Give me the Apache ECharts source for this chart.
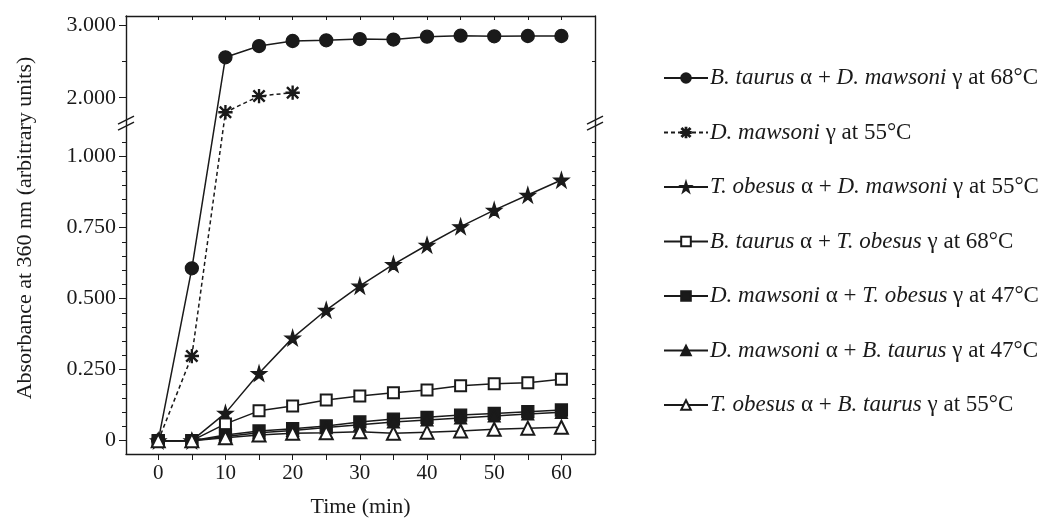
<!DOCTYPE html>
<html>
<head>
<meta charset="utf-8">
<script src="https://cdn.jsdelivr.net/npm/echarts@6/dist/echarts.min.js"></script>
<style>
  html, body { margin: 0; padding: 0; background: #fff; }
  #main { width: 1060px; height: 518px; }
</style>
</head>
<body>
<div id="main"></div>
<script>
// time points (min)
var times = [0, 5, 10, 15, 20, 25, 30, 35, 40, 45, 50, 55, 60];

// absorbance at 360 nm
var btDm68 = [0, 0.607, 2.556, 2.711, 2.78, 2.79, 2.807, 2.80, 2.84, 2.853, 2.845, 2.849, 2.849];
var dm55   = [0, 0.298, 1.80, 2.023, 2.069];
var toDm55 = [0, 0, 0.097, 0.237, 0.362, 0.46, 0.545, 0.621, 0.689, 0.754, 0.812, 0.865, 0.918];
var btTo68 = [0, 0, 0.059, 0.105, 0.122, 0.143, 0.157, 0.169, 0.178, 0.193, 0.2, 0.204, 0.216];
var dmTo47 = [0, 0, 0.02, 0.034, 0.042, 0.052, 0.066, 0.076, 0.082, 0.09, 0.096, 0.102, 0.108];
var dmBt47 = [0, 0, 0.015, 0.028, 0.036, 0.046, 0.056, 0.066, 0.073, 0.08, 0.087, 0.094, 0.1];
var toBt55 = [0, 0, 0.01, 0.02, 0.026, 0.028, 0.031, 0.026, 0.03, 0.034, 0.04, 0.044, 0.047];

var seriesNames = [
  'B. taurus α + D. mawsoni γ at 68°C',
  'D. mawsoni γ at 55°C',
  'T. obesus α + D. mawsoni γ at 55°C',
  'B. taurus α + T. obesus γ at 68°C',
  'D. mawsoni α + T. obesus γ at 47°C',
  'D. mawsoni α + B. taurus γ at 47°C',
  'T. obesus α + B. taurus γ at 55°C'
];

// tick positions
var xTicks = [0, 5, 10, 15, 20, 25, 30, 35, 40, 45, 50, 55, 60];
var xLabels = [0, 10, 20, 30, 40, 50, 60];
var majorTicks = [0, 0.25, 0.5, 0.75, 1, 2, 3];
var minorTicks = [];
for (var k = 0; k <= 21; k++) minorTicks.push(k * 0.05);
minorTicks.push(2.5);

// broken axis: lower part 0..1 at full scale, upper part 2..3 squeezed
var BREAK_BASE = 1.2077, UPPER_SCALE = 0.256;
function disp(v) {
  return v <= 1.1 ? v : BREAK_BASE + (v - 2) * UPPER_SCALE;
}

function pairs(vals) {
  return vals.map(function (v, i) { return [times[i], disp(v)]; });
}

var starPath = 'path://M50,0 L61,35 L98,35 L68,57 L79,91 L50,70 L21,91 L32,57 L2,35 L39,35 Z';
var asteriskPath = 'path://M9.2,0 H10.8 V20 H9.2 Z M0,9.2 H20 V10.8 H0 Z M1.4,2.6 L2.6,1.4 L18.6,17.4 L17.4,18.6 Z M17.4,1.4 L18.6,2.6 L2.6,18.6 L1.4,17.4 Z';

var ink = '#1a1a1a';
var serif = 'Liberation Serif';

function lineSeries(name, vals, symbol, size, dashed) {
  return {
    name: name,
    type: 'line',
    data: pairs(vals),
    symbol: symbol,
    symbolSize: size,
    showSymbol: true,
    itemStyle: { color: ink, borderColor: ink, borderWidth: 1.3 },
    lineStyle: { color: ink, width: 1.5, type: dashed ? [4, 3] : 'solid' },
    animation: false
  };
}

var chartDom = document.getElementById('main');
var myChart = echarts.init(chartDom);

var majorDisp = majorTicks.map(disp);
var minorDisp = minorTicks.map(disp);
var yMin = -0.047, yMax = 1.4955;
var xMin = -4.8, xMax = 65;

var option = {
  backgroundColor: '#fff',
  animation: false,
  grid: { left: 126, right: 465, top: 16, bottom: 64, outerBoundsMode: 'none', containLabel: false },
  legend: {
    orient: 'vertical',
    left: 658,
    top: 61,
    itemWidth: 44,
    itemHeight: 12,
    itemGap: 30.5,
    data: seriesNames,
    textStyle: {
      fontFamily: serif,
      fontSize: 23,
      color: ink,
      lineHeight: 24,
      padding: [0, 0, 0, -3],
      rich: {
        i: { fontFamily: serif, fontSize: 23, fontStyle: 'italic', color: ink }
      }
    },
    formatter: function (name) {
      return name.replace(/([A-Z]\. [a-z]+)/g, '{i|$1}');
    }
  },
  xAxis: [
    {
      type: 'value',
      position: 'bottom',
      min: xMin,
      max: xMax,
      name: 'Time (min)',
      nameLocation: 'middle',
      nameGap: 42,
      nameTextStyle: { fontFamily: serif, fontSize: 22, color: ink },
      splitLine: { show: false },
      axisLine: { show: true, onZero: false, lineStyle: { color: ink, width: 1.4 } },
      axisTick: { show: true, length: 6, lineStyle: { color: ink }, customValues: xTicks },
      axisLabel: { fontFamily: serif, fontSize: 21, color: ink, margin: 9, customValues: xLabels }
    },
    {
      type: 'value',
      position: 'top',
      min: xMin,
      max: xMax,
      splitLine: { show: false },
      axisLine: { show: true, onZero: false, lineStyle: { color: ink, width: 1.4 } },
      axisTick: { show: true, inside: true, length: 4, lineStyle: { color: ink }, customValues: xTicks },
      axisLabel: { show: false }
    }
  ],
  yAxis: [
    {
      type: 'value',
      position: 'left',
      min: yMin,
      max: yMax,
      name: 'Absorbance at 360 nm (arbitrary units)',
      nameLocation: 'middle',
      nameGap: 90,
      nameTextStyle: { fontFamily: serif, fontSize: 22, color: ink, padding: [0, 0, 0, 14] },
      splitLine: { show: false },
      axisLine: { show: true, onZero: false, lineStyle: { color: ink, width: 1.4 } },
      axisTick: { show: true, length: 7, lineStyle: { color: ink }, customValues: majorDisp },
      axisLabel: {
        fontFamily: serif, fontSize: 22, color: ink, margin: 10,
        customValues: majorDisp,
        formatter: function (val) {
          var best = 0;
          for (var i = 1; i < majorDisp.length; i++) {
            if (Math.abs(majorDisp[i] - val) < Math.abs(majorDisp[best] - val)) best = i;
          }
          var v = majorTicks[best];
          return v === 0 ? '0' : v.toFixed(3);
        }
      }
    },
    {
      type: 'value',
      position: 'left',
      min: yMin,
      max: yMax,
      splitLine: { show: false },
      axisLine: { show: false, onZero: false },
      axisTick: { show: true, length: 4, lineStyle: { color: ink }, customValues: minorDisp },
      axisLabel: { show: false }
    },
    {
      type: 'value',
      position: 'right',
      min: yMin,
      max: yMax,
      splitLine: { show: false },
      axisLine: { show: true, onZero: false, lineStyle: { color: ink, width: 1.4 } },
      axisTick: { show: true, inside: true, length: 3, lineStyle: { color: ink }, customValues: minorDisp },
      axisLabel: { show: false }
    }
  ],
  series: [
    lineSeries(seriesNames[0], btDm68, 'circle', 13, false),
    lineSeries(seriesNames[1], dm55, asteriskPath, 13, true),
    lineSeries(seriesNames[2], toDm55, starPath, 15, false),
    lineSeries(seriesNames[3], btTo68, 'emptyRect', 11, false),
    lineSeries(seriesNames[4], dmTo47, 'rect', 12, false),
    lineSeries(seriesNames[5], dmBt47, 'triangle', 12, false),
    lineSeries(seriesNames[6], toBt55, 'emptyTriangle', 13, false)
  ]
};

myChart.setOption(option);

// axis-break marks "//" on both vertical axes
var breakY = myChart.convertToPixel({ yAxisIndex: 0 }, 1.118);
var leftX = myChart.convertToPixel({ xAxisIndex: 0 }, xMin);
var rightX = myChart.convertToPixel({ xAxisIndex: 0 }, xMax);
function slashes(x) {
  return [-3, 3].map(function (dy) {
    return {
      type: 'line',
      shape: { x1: x - 8, y1: breakY + dy + 4, x2: x + 8, y2: breakY + dy - 4 },
      style: { stroke: ink, lineWidth: 1.3 }
    };
  });
}
myChart.setOption({ graphic: slashes(leftX).concat(slashes(rightX)) });
</script>
</body>
</html>
